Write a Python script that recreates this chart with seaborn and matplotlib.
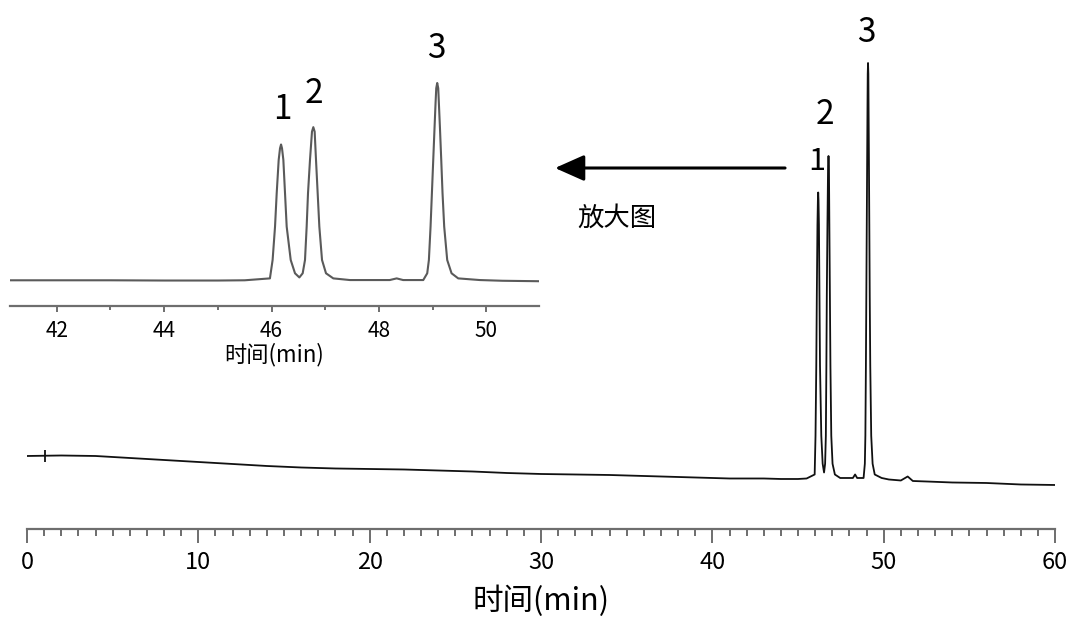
import numpy as np
import pandas as pd
import matplotlib
matplotlib.use("Agg")
import matplotlib.pyplot as plt
from matplotlib.ticker import MultipleLocator
import seaborn as sns

# chromatogram (time in min, detector signal in mV)
time_min = [0, 2, 4, 6, 8, 10, 12, 14, 16, 18, 20, 22, 24, 26, 28, 30, 32, 34, 36, 38,
            40, 41, 42, 43, 44, 45, 45.5,
            45.97, 46.02, 46.065, 46.096, 46.133, 46.158, 46.177, 46.195, 46.22, 46.251,
            46.282, 46.357, 46.437, 46.518,
            46.58, 46.623, 46.654, 46.679, 46.716, 46.753, 46.778, 46.803, 46.828, 46.859,
            46.89, 46.94, 47.014, 47.15,
            47.46, 47.83, 48.2, 48.33, 48.45, 48.58, 48.825,
            48.899, 48.93, 48.961, 48.986, 49.011, 49.036, 49.054, 49.067, 49.085, 49.104,
            49.116, 49.135, 49.16, 49.184, 49.215, 49.271, 49.352, 49.476,
            49.88, 50.3, 51.0, 51.4, 51.7, 52.5, 54, 56, 58, 60]
signal_mv = [14.6, 14.7, 14.6, 14.2, 13.8, 13.4, 13.0, 12.6, 12.3, 12.1, 12.0, 11.9, 11.7,
             11.5, 11.2, 11.0, 10.9, 10.8, 10.6, 10.4,
             10.2, 10.1, 10.1, 10.1, 10.0, 10.0, 10.1,
             10.9, 18.65, 32.7, 46.75, 60.8, 65.7, 67.3, 65.7, 60.8, 46.75,
             32.7, 18.65, 13.05, 11.3,
             13.05, 18.65, 32.7, 46.75, 60.8, 72.7, 74.6, 72.7, 60.8, 46.75,
             32.7, 18.65, 13.05, 10.9,
             10.2, 10.2, 10.2, 10.9, 10.2, 10.2, 10.2,
             13.05, 18.65, 32.7, 46.75, 60.8, 74.8, 84.7, 91.0, 93.2, 91.0,
             84.7, 74.8, 60.8, 46.75, 32.7, 18.65, 13.05, 10.9,
             10.2, 9.9, 9.7, 10.5, 9.6, 9.5, 9.3, 9.2, 8.9, 8.8]

inject_time = 1.05
inject_signal = 14.6

peak_labels = ["1", "2", "3"]
peak_times = [46.177, 46.778, 49.085]
peak_heights = [67.3, 74.6, 93.2]

df = pd.DataFrame({"time": time_min, "signal": signal_mv})

sns.set_theme(style="white")
plt.rcParams["font.family"] = ["Noto Sans CJK SC", "DejaVu Sans"]
plt.rcParams["text.color"] = "black"
plt.rcParams["axes.labelcolor"] = "black"
plt.rcParams["xtick.labelcolor"] = "black"

fig = plt.figure(figsize=(10.8, 6.29), dpi=100)
axis_grey = "#6e6e6e"

# main chromatogram
ax = fig.add_axes([0.025, 0.159, 0.9519, 0.8251])
sns.lineplot(data=df, x="time", y="signal", ax=ax, color="#111111", lw=1.3,
             estimator=None, sort=False)
ax.plot([inject_time], [inject_signal], marker="|", ms=9, mew=1.3, color="#111111")
ax.set_xlim(0, 60)
ax.set_ylim(0, 103.8)
for s in ["top", "right", "left"]:
    ax.spines[s].set_visible(False)
ax.spines["bottom"].set_color(axis_grey)
ax.spines["bottom"].set_linewidth(1.6)
ax.set_yticks([])
ax.xaxis.set_major_locator(MultipleLocator(10))
ax.xaxis.set_minor_locator(MultipleLocator(1))
ax.tick_params(axis="x", which="major", direction="out", length=10, width=1.4,
               color=axis_grey, labelsize=17, pad=6, bottom=True)
ax.tick_params(axis="x", which="minor", direction="out", length=5, width=1.4,
               color=axis_grey, bottom=True)
ax.set_xlabel("时间(min)", fontsize=22, labelpad=8)
ax.set_ylabel("")

main_offsets = [(-1, 22), (-2.4, 30), (-1.5, 22)]
main_sizes = [22, 24, 24]
for lab, t, h, off, fs in zip(peak_labels, peak_times, peak_heights, main_offsets, main_sizes):
    ax.annotate(lab, xy=(t, h), xytext=off, textcoords="offset points",
                ha="center", va="center", fontsize=fs)

# zoomed inset
ins = fig.add_axes([0.00926, 0.514, 0.4898, 0.4224])
ins.patch.set_alpha(0)
sns.lineplot(data=df, x="time", y="signal", ax=ins, color="#5a5a5a", lw=1.5,
             estimator=None, sort=False)
ins.set_xlim(41.13, 50.98)
ins.set_ylim(-0.6, 111.3)
for s in ["top", "right", "left"]:
    ins.spines[s].set_visible(False)
ins.spines["bottom"].set_color(axis_grey)
ins.spines["bottom"].set_linewidth(1.6)
ins.set_yticks([])
ins.xaxis.set_major_locator(MultipleLocator(2))
ins.xaxis.set_minor_locator(MultipleLocator(1))
ins.tick_params(axis="x", which="major", direction="out", length=4, width=1.4,
                color=axis_grey, labelsize=15, pad=6, bottom=True)
ins.tick_params(axis="x", which="minor", direction="out", length=3, width=1.4,
                color=axis_grey, bottom=True)
ins.set_xlabel("时间(min)", fontsize=16, labelpad=1)
ins.set_ylabel("")

inset_offsets = [(0.9, 25), (0.7, 24), (-0.4, 25)]
for lab, t, h, off in zip(peak_labels, peak_times, peak_heights, inset_offsets):
    ins.annotate(lab, xy=(t, h), xytext=off, textcoords="offset points",
                 ha="center", va="center", fontsize=24)

# arrow pointing to the zoomed view
fig.patches.append(matplotlib.patches.FancyArrowPatch(
    (0.7269, 0.7329), (0.5139, 0.7329), transform=fig.transFigure,
    arrowstyle="-|>,head_length=0.9,head_width=0.4", mutation_scale=20,
    lw=2.2, color="black", shrinkA=0, shrinkB=0))
fig.text(0.5713, 0.6534, "放大图", ha="center", va="center", fontsize=19)

fig.savefig("out.png", dpi=100)
